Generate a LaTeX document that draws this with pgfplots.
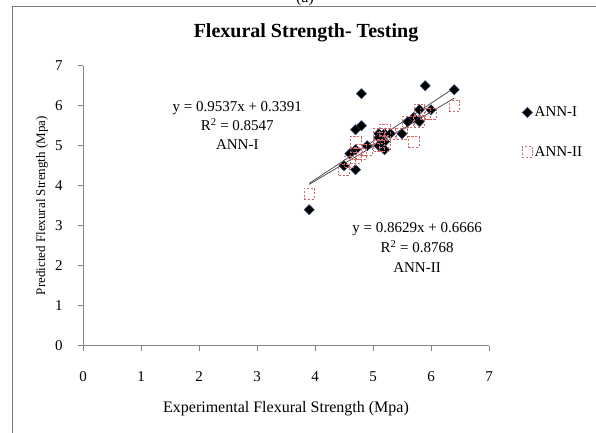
\documentclass[border=0pt]{standalone}
\usepackage{fontspec}
\setmainfont{Liberation Serif}
\usepackage{pgfplots}
\pgfplotsset{compat=1.18}
\definecolor{axgray}{HTML}{868686}
\definecolor{sqred}{HTML}{D06868}
\definecolor{framegray}{HTML}{7A7A7A}
\definecolor{dmd}{HTML}{2A4470}
\begin{document}
\begin{tikzpicture}
\useasboundingbox (0,0) rectangle (596bp,433bp);
\fill[white] (0,0) rectangle (596bp,433bp);
\draw[framegray, line width=0.9bp] (12bp,0) -- (12bp,426.3bp) -- (600bp,426.3bp);
\node[anchor=base, font=\fontsize{16bp}{18bp}\selectfont] at (305bp,430.5bp) {(a)};
\node[font=\fontsize{20bp}{22bp}\selectfont\bfseries] at (306bp,400bp) {Flexural Strength- Testing};
\begin{axis}[
  at={(83bp,87.3bp)}, anchor=south west,
  scale only axis, width=406bp, height=280bp,
  xmin=0, xmax=7, ymin=0, ymax=7,
  axis lines=left,
  axis line style={-, axgray, line width=0.8bp},
  xtick={0,1,...,7}, ytick={0,1,...,7},
  tick align=outside, major tick length=5bp,
  tick style={axgray, line width=0.8bp},
  /pgf/number format/assume math mode=true,
  ticklabel style={font=\fontsize{15bp}{18bp}\selectfont},
  xticklabel style={anchor=center, yshift=-26bp},
  yticklabel style={anchor=center, xshift=-19bp},
  xlabel={Experimental Flexural Strength (Mpa)},
  ylabel={Predicted Flexural Strength (Mpa)},
  xlabel style={at={(axis description cs:0.5,0)}, anchor=center, yshift=-63bp, font=\fontsize{16bp}{18bp}\selectfont},
  ylabel style={at={(axis description cs:0,0.5)}, anchor=center, yshift=41bp, font=\fontsize{13bp}{15bp}\selectfont},
  legend style={at={(axis description cs:1.081,0.861)}, anchor=north west, draw=none, fill=none,
    font=\fontsize{15bp}{18bp}\selectfont, row sep=24bp, inner xsep=0bp, inner ysep=0bp},
  legend cell align=left,
  legend image code/.code={\draw[#1] plot coordinates {(0bp,0bp)};},
  clip=false,
]
\addplot[only marks, mark=square*, mark size=3.6bp, mark options={rotate=45, fill=black, draw=dmd, line width=0.5bp, solid}]
coordinates {
(3.9,3.4) (4.5,4.5) (4.6,4.8) (4.7,4.4) (4.7,4.9) (4.7,5.4) (4.8,5.5) (4.8,6.3)
(4.9,5.0) (5.1,5.3) (5.1,5.2) (5.1,5.0) (5.2,5.1) (5.2,4.9) (5.2,5.3) (5.3,5.3)
(5.5,5.3) (5.6,5.6) (5.7,5.7) (5.8,5.6) (5.8,5.9) (5.9,6.5) (6.0,5.9) (6.4,6.4)
};
\addlegendentry{ANN-I}
\addplot[only marks, mark=square, mark size=5.3bp, mark options={draw=sqred, line width=0.8bp, dash pattern=on 2.2bp off 1.6bp}]
coordinates {
(3.9,3.8) (4.5,4.4) (4.6,4.6) (4.7,4.8) (4.7,4.7) (4.7,5.1) (4.8,4.9) (4.8,4.8)
(4.9,4.9) (5.1,5.2) (5.1,5.3) (5.1,5.0) (5.2,5.4) (5.2,5.1) (5.2,5.0) (5.3,5.3)
(5.5,5.3) (5.6,5.6) (5.7,5.1) (5.8,5.6) (5.8,5.9) (5.9,5.8) (6.0,5.8) (6.4,6.0)
};
\addlegendentry{ANN-II}
\addplot[forget plot, no marks, black!75, line width=0.7bp] coordinates {(3.9,4.058) (6.4,6.443)};
\addplot[forget plot, no marks, black!75, line width=0.7bp] coordinates {(3.9,4.032) (6.4,6.189)};
\node[align=center, font=\fontsize{15bp}{19bp}\selectfont] at (axis cs:2.66,5.50)
  {y = 0.9537x + 0.3391\\R\textsuperscript{2} = 0.8547\\ANN-I};
\node[align=center, font=\fontsize{15bp}{20bp}\selectfont] at (axis cs:5.76,2.45)
  {y = 0.8629x + 0.6666\\R\textsuperscript{2} = 0.8768\\ANN-II};
\end{axis}
\end{tikzpicture}
\end{document}
